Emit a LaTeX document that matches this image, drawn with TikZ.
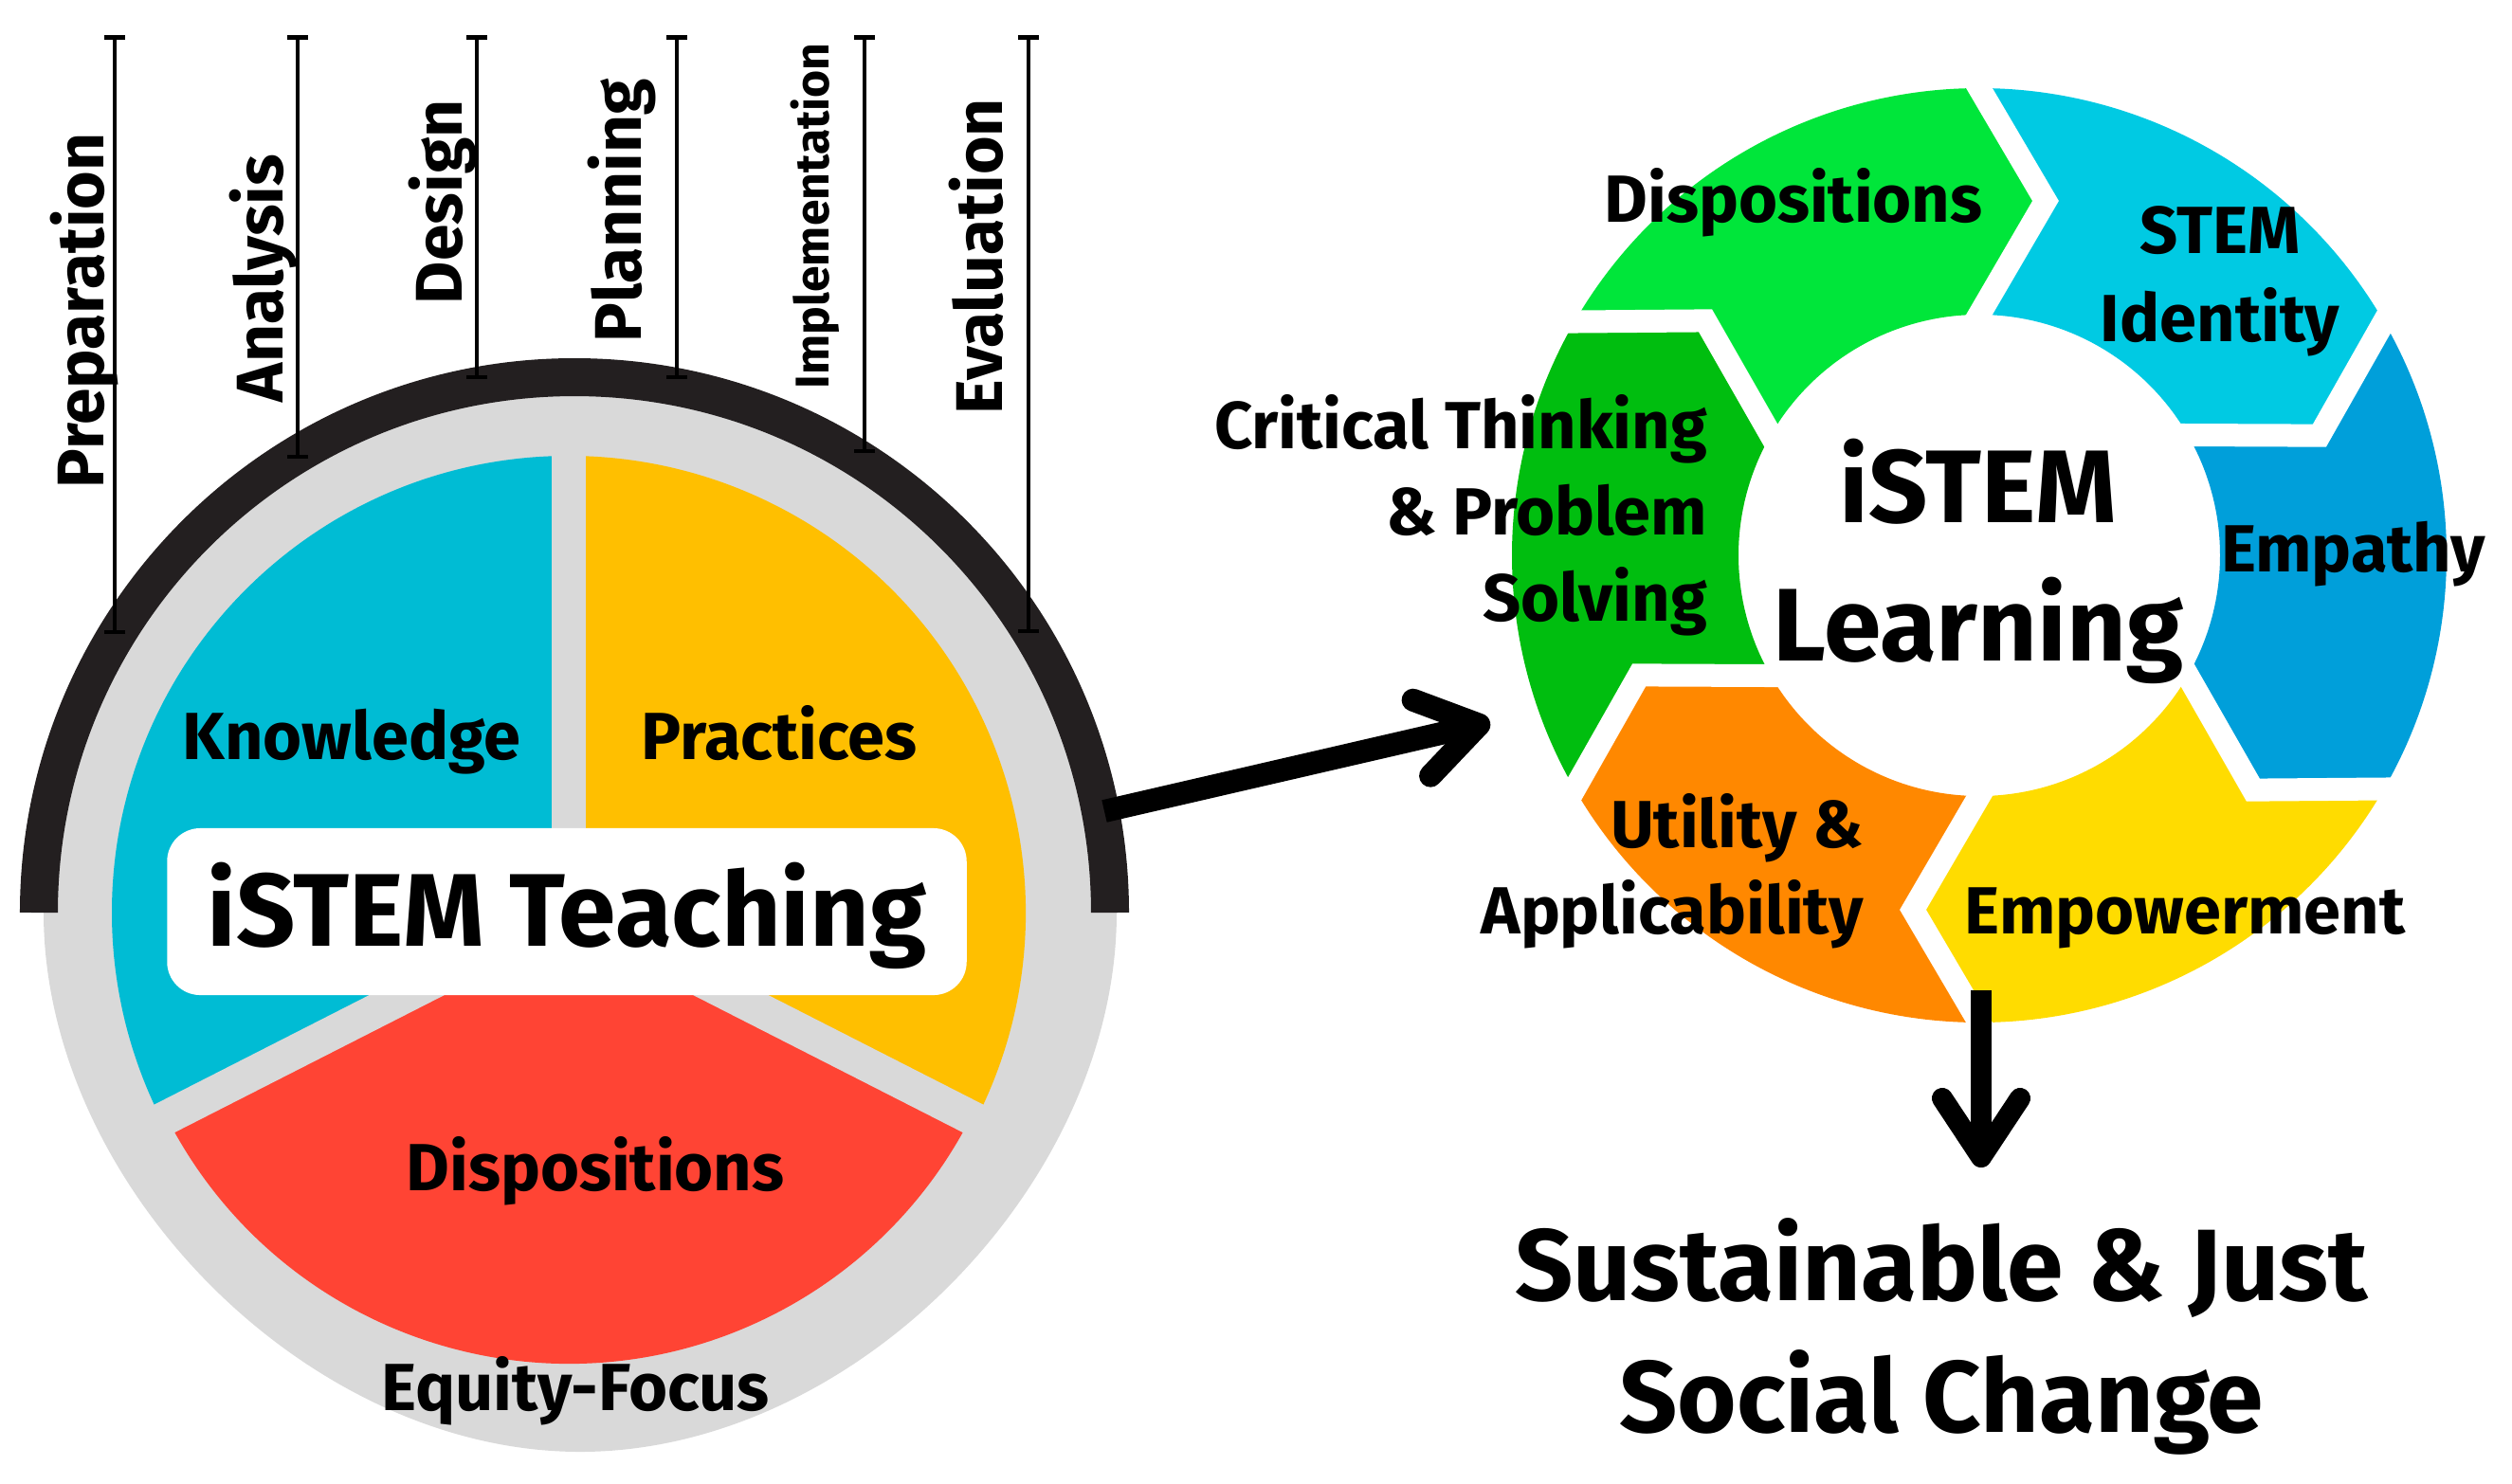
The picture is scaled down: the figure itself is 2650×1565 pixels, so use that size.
\documentclass[tikz,border=0pt]{standalone}
\usepackage{fontspec}
\setmainfont{Fira Sans}
\usetikzlibrary{arrows.meta}
\usetikzlibrary{calc}

\definecolor{kcyan}{HTML}{00BCD4}
\definecolor{porange}{HTML}{FFBF00}
\definecolor{dred}{HTML}{FF4434}
\definecolor{eqgray}{HTML}{D9D9D9}
\definecolor{arcblack}{HTML}{231F20}
\definecolor{dispgreen}{HTML}{00E63A}
\definecolor{stemcyan}{HTML}{00CAE3}
\definecolor{empblue}{HTML}{009FDA}
\definecolor{powyellow}{HTML}{FFDC00}
\definecolor{utilorange}{HTML}{FF8800}
\definecolor{critgreen}{HTML}{00BE0F}

\begin{document}
\begin{tikzpicture}[%
        x=0.01cm, y=0.01cm,
        every node/.style={inner sep=0pt, outer sep=0pt},
        lbl/.style={font=\fontsize{20}{25.8}\selectfont\bfseries},
        phase/.style={rotate=90, anchor=base west, font=\fontsize{19.8}{22}\selectfont\bfseries},
        phaseline/.style={line width=0.45mm, {Bar[width=2.2mm]}-{Bar[width=2.2mm]}},
        bigarrow/.style={-{Straight Barb[round, length=6.2mm, width=8.2mm]}}
      ]
      \useasboundingbox (0,0) rectangle (2650,-1565);

      % iSTEM teaching
      \fill[eqgray] (46,-963) arc[start angle=180, end angle=0, radius=566]
        .. controls (1178,-1250) and (900,-1532) .. (612,-1532)
        .. controls (324,-1532) and (46,-1250) .. (46,-963) -- cycle;
      \draw[arcblack, line width=4mm] (41,-963) arc[start angle=180, end angle=0, radius=565];
      \fill[kcyan] (600,-963) -- ++(90:482) arc[start angle=90, end angle=207, radius=482] -- cycle;
      \fill[porange] (600,-963) -- ++(-27:482) arc[start angle=-27, end angle=90, radius=482] -- cycle;
      \fill[dred] (600,-963) -- ++(207:476) arc[start angle=207, end angle=333, radius=476] -- cycle;
      \foreach \a in {90,207,333}
        \draw[eqgray, line width=3.6mm] (600,-963) -- ++(\a:500);
      \node[fill=white, rounded corners=3.5mm, minimum width=8.43cm, minimum height=1.76cm,
            text height=21pt, text depth=0pt, font=\fontsize{31}{36}\selectfont\bfseries]
            (teach) at (598,-962) {iSTEM Teaching};
      \node[lbl, anchor=base] (know) at (371,-801) {Knowledge};
      \node[lbl, anchor=base] (prac) at (822,-801) {Practices};
      \node[lbl, anchor=base] (disp) at (628,-1256) {Dispositions};
      \node[lbl, anchor=base] (equity) at (607,-1488) {Equity-Focus};

      % phases
      \foreach \nm/\x/\yb in {prep/121/669, ana/314/484, des/503/400, pla/714/400, imp/912/478, eva/1085/668} {
        \coordinate (\nm-top) at (\x,-37);
        \coordinate (\nm-bot) at (\x,-\yb);
        \draw[phaseline] (\nm-top) -- (\nm-bot);
      }
      \node[phase] (prep) at (110,-515) {Preparation};
      \node[phase] (analysis) at (298,-424) {Analysis};
      \node[phase] (design) at (487,-321) {Design};
      \node[phase] (plan) at (676,-361) {Planning};
      \node[phase, font=\fontsize{14.2}{16}\selectfont\bfseries] (impl) at (874,-410) {Implementation};
      \node[phase] (eval) at (1057,-437) {Evaluation};

      % iSTEM learning cycle
      \begin{scope}[shift={(2088,-586)}]
        \foreach \s/\col in {150/dispgreen, 90/stemcyan, 30/empblue, -30/powyellow, -90/utilorange, -150/critgreen}
          \fill[\col] (\s:493) arc[start angle=\s, end angle=\s-60, radius=493]
            -- (\s-70.6:380.5) -- (\s-60:254) arc[start angle=\s-60, end angle=\s, radius=254]
            -- (\s-10.6:380.5) -- cycle;
        \foreach \b in {90,30,-30,-90,-150,150}
          \draw[white, line width=2.4mm]
            ($(\b-10.6:380.5)!1.2!(\b:493)$) -- (\b-10.6:380.5) -- ($(\b-10.6:380.5)!1.2!(\b:254)$);
      \end{scope}
      \node[lbl, anchor=base] (rdisp) at (1892,-234) {Dispositions};
      \node[lbl, anchor=base, align=center, font=\fontsize{20}{26.2}\selectfont\bfseries] (stem) at (2342,-360) {STEM\\Identity};
      \node[lbl, anchor=base east, align=right] (crit) at (1801,-655) {Critical Thinking\\\& Problem\\Solving};
      \node[anchor=base, align=center, font=\fontsize{31}{41.3}\selectfont\bfseries] (learn) at (2087,-697) {iSTEM\\Learning};
      \node[lbl, anchor=base west] (emp) at (2343,-603) {Empathy};
      \node[lbl, anchor=base east, align=right] (util) at (1966,-985) {Utility \&\\Applicability};
      \node[lbl, anchor=base] (power) at (2305,-985) {Empowerment};
      \node[anchor=base, align=center, font=\fontsize{30.5}{39.3}\selectfont\bfseries] (change) at (2048,-1511) {Sustainable \& Just\\Social Change};

      % arrows
      \coordinate (teachOut) at (1165,-856);
      \coordinate (learnIn) at (1572,-762);
      \coordinate (learnOut) at (2090,-1045);
      \coordinate (changeIn) at (2090,-1232);
      \draw[bigarrow, line width=2.4mm] (teachOut) -- (learnIn);
      \draw[bigarrow, line width=2.2mm] (learnOut) -- (changeIn);
    \end{tikzpicture}
\end{document}
